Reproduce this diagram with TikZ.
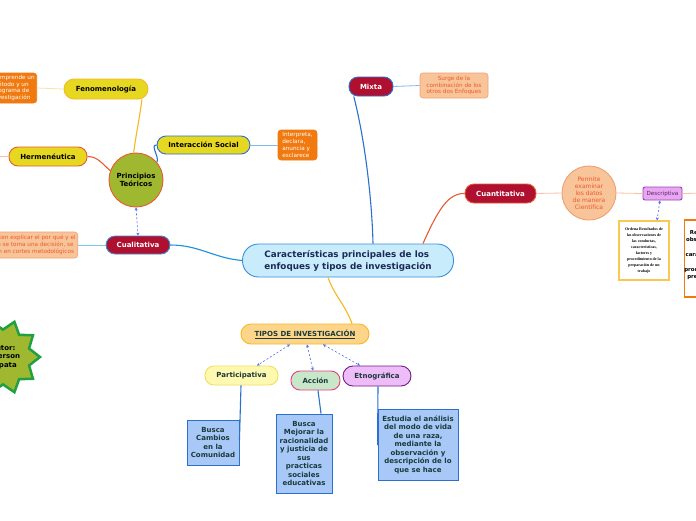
\documentclass[tikz,border=0pt]{standalone}
\usepackage{fontspec}
\setmainfont{DejaVu Sans}
\newfontfamily\serifb{Liberation Serif}
\usetikzlibrary{shapes.geometric,arrows.meta}
\definecolor{cfill}{HTML}{C8ECFC}
\definecolor{cdraw}{HTML}{3A90D8}
\definecolor{navy}{HTML}{1C2A56}
\definecolor{yel}{HTML}{E6D820}
\definecolor{yelline}{HTML}{F8B820}
\definecolor{orng}{HTML}{F07A10}
\definecolor{orred}{HTML}{E85A30}
\definecolor{salm}{HTML}{F8C49A}
\definecolor{salmd}{HTML}{F0A070}
\definecolor{salmt}{HTML}{F05A28}
\definecolor{crim}{HTML}{B01030}
\definecolor{blu}{HTML}{2A70D0}
\definecolor{lblu}{HTML}{80B8F0}
\definecolor{olive}{HTML}{A0B830}
\definecolor{teal}{HTML}{1A3A3A}
\definecolor{boxb}{HTML}{A8C8F8}
\definecolor{dasb}{HTML}{4A70F0}
\definecolor{pink}{HTML}{FBC0A8}
\begin{document}
\begin{tikzpicture}[x=1pt,y=-1pt,
  base/.style={draw, line width=0.9pt, inner sep=0pt, align=center, font=\bfseries\fontsize{7}{8.4}\selectfont},
  pill/.style={base, rounded corners=9pt, minimum height=19pt},
  note/.style={draw, line width=0.6pt, inner sep=2pt, rounded corners=3pt, align=center, font=\fontsize{5.7}{6.7}\selectfont},
  bluebox/.style={base, fill=boxb, draw=blu, text=teal, font=\bfseries\fontsize{7}{8.5}\selectfont},
  conn/.style={line width=1.1pt},
  dasharr/.style={draw=dasb, line width=0.6pt, dash pattern=on 2pt off 2pt, {Stealth[length=3pt,width=3pt]}-{Stealth[length=3pt,width=3pt]}}
]
\clip (0,0) rectangle (696,520);
\fill[white] (0,0) rectangle (696,520);

% central node
\node[base, fill=cfill, draw=cdraw, text=navy, rounded corners=16pt, minimum width=211pt, minimum height=33pt, align=left, font=\bfseries\fontsize{8.8}{12}\selectfont] (c) at (348,260.5) {Características principales de los\\enfoques y tipos de investigación};

% principles
\node[base, circle, fill=olive, draw=orred, minimum size=54pt] (pt) at (136,180) {Principios\\Teóricos};
\node[pill, fill=yel, draw=yelline, minimum width=84pt, minimum height=20pt, rounded corners=10pt] (fen) at (106,89) {Fenomenología};
\node[pill, fill=yel, draw=orred, minimum width=78pt] (her) at (48,156.5) {Hermenéutica};
\node[pill, fill=yel, draw=blu, minimum width=93pt, minimum height=18pt] (int) at (203.5,145) {Interacción Social};
\node[note, fill=orng, draw=orng, text=white, align=left, anchor=east, minimum height=30pt] (fenn) at (37,88) {Comprende un\\método y un\\programa de\\investigación};
\node[note, fill=orng, draw=orng, text=white, align=left, minimum width=39pt, minimum height=30pt] (intn) at (297.5,145) {Interpreta,\\declara,\\anuncia y\\esclarece};
\coordinate (herl) at (-20,157);

% cualitativa
\node[pill, fill=crim, draw=cdraw, text=white, minimum width=64pt, minimum height=18pt] (cual) at (138,245) {Cualitativa};
\node[note, fill=salm, draw=salmd, text=salmt, anchor=east, minimum height=26pt] (cualn) at (78,245) {Permiten explicar el por qué y el\\cómo se toma una decisión, se\\basan en cortes metodológicos};

% mixta
\node[pill, fill=crim, draw=blu, text=white, minimum width=44pt] (mix) at (371,86.5) {Mixta};
\node[note, fill=salm, draw=salmd, text=salmt, minimum width=68pt, minimum height=25pt] (mixn) at (454,85.5) {Surge de la\\combinación de los\\otros dos Enfoques};

% cuantitativa
\node[pill, fill=crim, draw=orred, text=white, minimum width=71pt] (cuan) at (500.5,193.5) {Cuantitativa};
\node[base, circle, fill=salm, draw=salmd, text=salmt, minimum size=54pt, font=\fontsize{6}{7}\selectfont] (perm) at (589,193) {Permite\\examinar\\los datos\\de manera\\Científica};
\node[base, fill={rgb,255:red,232;green,168;blue,240}, draw={rgb,255:red,160;green,64;blue,192}, rounded corners=2pt, minimum width=39pt, minimum height=13pt, text={rgb,255:red,90;green,32;blue,112}, font=\fontsize{5.6}{6.5}\selectfont] (desc) at (662.5,193.5) {Descriptiva};
\coordinate (descr) at (710,193);
\node[base, fill=white, draw={rgb,255:red,248;green,200;blue,80}, line width=1.2pt, minimum width=50pt, minimum height=59pt, font=\serifb\bfseries\fontsize{4}{6.1}\selectfont] (ord) at (644,250.5) {Ordena Resultados de\\las observaciones de\\las conductas,\\características,\\factores y\\procedimiento de la\\preparación de un\\trabajo};
\node[base, fill=white, draw=orng, line width=1.2pt, minimum width=46pt, minimum height=77pt, font=\bfseries\fontsize{5.4}{7.4}\selectfont] (reg) at (708,258.5) {Registra las\\observaciones\\de\\características\\,\\procedimientos\\previos de un\\trabajo};

% tipos
\node[pill, fill={rgb,255:red,253;green,213;blue,138}, draw=yelline, minimum width=128pt, minimum height=20pt, rounded corners=10pt, text=teal] (tip) at (305,334) {\underline{TIPOS DE INVESTIGACIÓN}};
\node[pill, fill={rgb,255:red,255;green,248;blue,176}, draw={rgb,255:red,240;green,224;blue,96}, text=teal, minimum width=73pt] (par) at (241.5,375.5) {Participativa};
\node[pill, fill={rgb,255:red,200;green,230;blue,200}, draw={rgb,255:red,232;green,64;blue,128}, text=teal, minimum width=49pt] (acc) at (315.5,380.5) {Acción};
\node[pill, fill={rgb,255:red,238;green,188;blue,248}, draw={rgb,255:red,112;green,32;blue,128}, text=teal, minimum width=68pt, minimum height=20pt, rounded corners=10pt] (etn) at (377,376) {Etnográfica};

\node[bluebox, minimum width=52pt, minimum height=45pt] (b1) at (213,442.5) {Busca\\Cambios\\en la\\Comunidad};
\node[bluebox, minimum width=56pt, minimum height=79pt] (b2) at (304,453.5) {Busca\\Mejorar la\\racionalidad\\y justicia de\\sus\\practicas\\sociales\\educativas};
\node[bluebox, minimum width=80pt, minimum height=71pt] (b3) at (418,444.5) {Estudia el análisis\\del modo de vida\\de una raza,\\mediante la\\observación y\\descripción de lo\\que se hace};

% star
\node[star, star points=10, star point ratio=1.35, minimum size=74pt, inner sep=0pt, fill=olive, draw={rgb,255:red,32;green,160;blue,64}, line width=2.5pt, shape border rotate=90, align=center, font=\bfseries\fontsize{7}{8.4}\selectfont] (star) at (3,357) {Autor:\\Emerson\\Zapata};

% connectors
\draw[conn, draw=yelline] (pt.95) to[out=82, in=262] (fen.south -| 142,0);
\draw[conn, draw=orred] (pt.160) to[out=140, in=0] (her.east);
\draw[conn, draw=blu] (pt.40) to[out=70, in=180] (int.west);
\draw[line width=0.8pt, draw={rgb,255:red,253;green,224;blue,176}] (fenn.east) -- (fen.west);
\draw[line width=0.8pt, draw=pink] (herl) -- (her.west);
\draw[line width=0.8pt, draw=lblu] (int.east) -- (intn.west);
\draw[dasharr] (pt.south) -- (cual.north);
\draw[conn, draw={rgb,255:red,26;green,144;blue,224}] (cual.east) to[out=0, in=175] (c.west);
\draw[line width=0.8pt, draw={rgb,255:red,128;green,200;blue,240}] (cualn.east) -- (cual.west);
\draw[conn, draw=blu] (mix.210) .. controls (365,140) and (372,200) .. (c.north -| 373,0);
\draw[line width=0.8pt, draw=lblu] (mix.east) -- (mixn.west);
\draw[conn, draw=orred] (c.north -| 423,0) .. controls (438,210) and (448,193) .. (cuan.west);
\draw[line width=0.8pt, draw=pink] (cuan.east) -- (perm.west);
\draw[line width=0.8pt, draw=pink] (perm.east) -- (desc.west);
\draw[line width=0.8pt, draw=pink] (desc.east) -- (descr);
\draw[dasharr] (desc.250) -- (ord.north -| 657,0);
\draw[conn, draw=yelline] (c.south -| 328,0) to[out=290, in=110] (tip.north -| 352,0);
\draw[dasharr] (tip.south -| 290,0) -- (par.north -| 257,0);
\draw[dasharr] (tip.south -| 307,0) -- (acc.north -| 313,0);
\draw[dasharr] (tip.south -| 323,0) -- (etn.north -| 360,0);
\draw[conn, draw=blu] (par.south -| 241,0) -- (b1.east |- 0,440);
\draw[conn, draw=blu] (acc.south -| 318,0) -- (b2.north -| 321,0);
\draw[conn, draw=blu] (etn.south -| 378,0) -- (b3.west |- 0,445);
\end{tikzpicture}
\end{document}
